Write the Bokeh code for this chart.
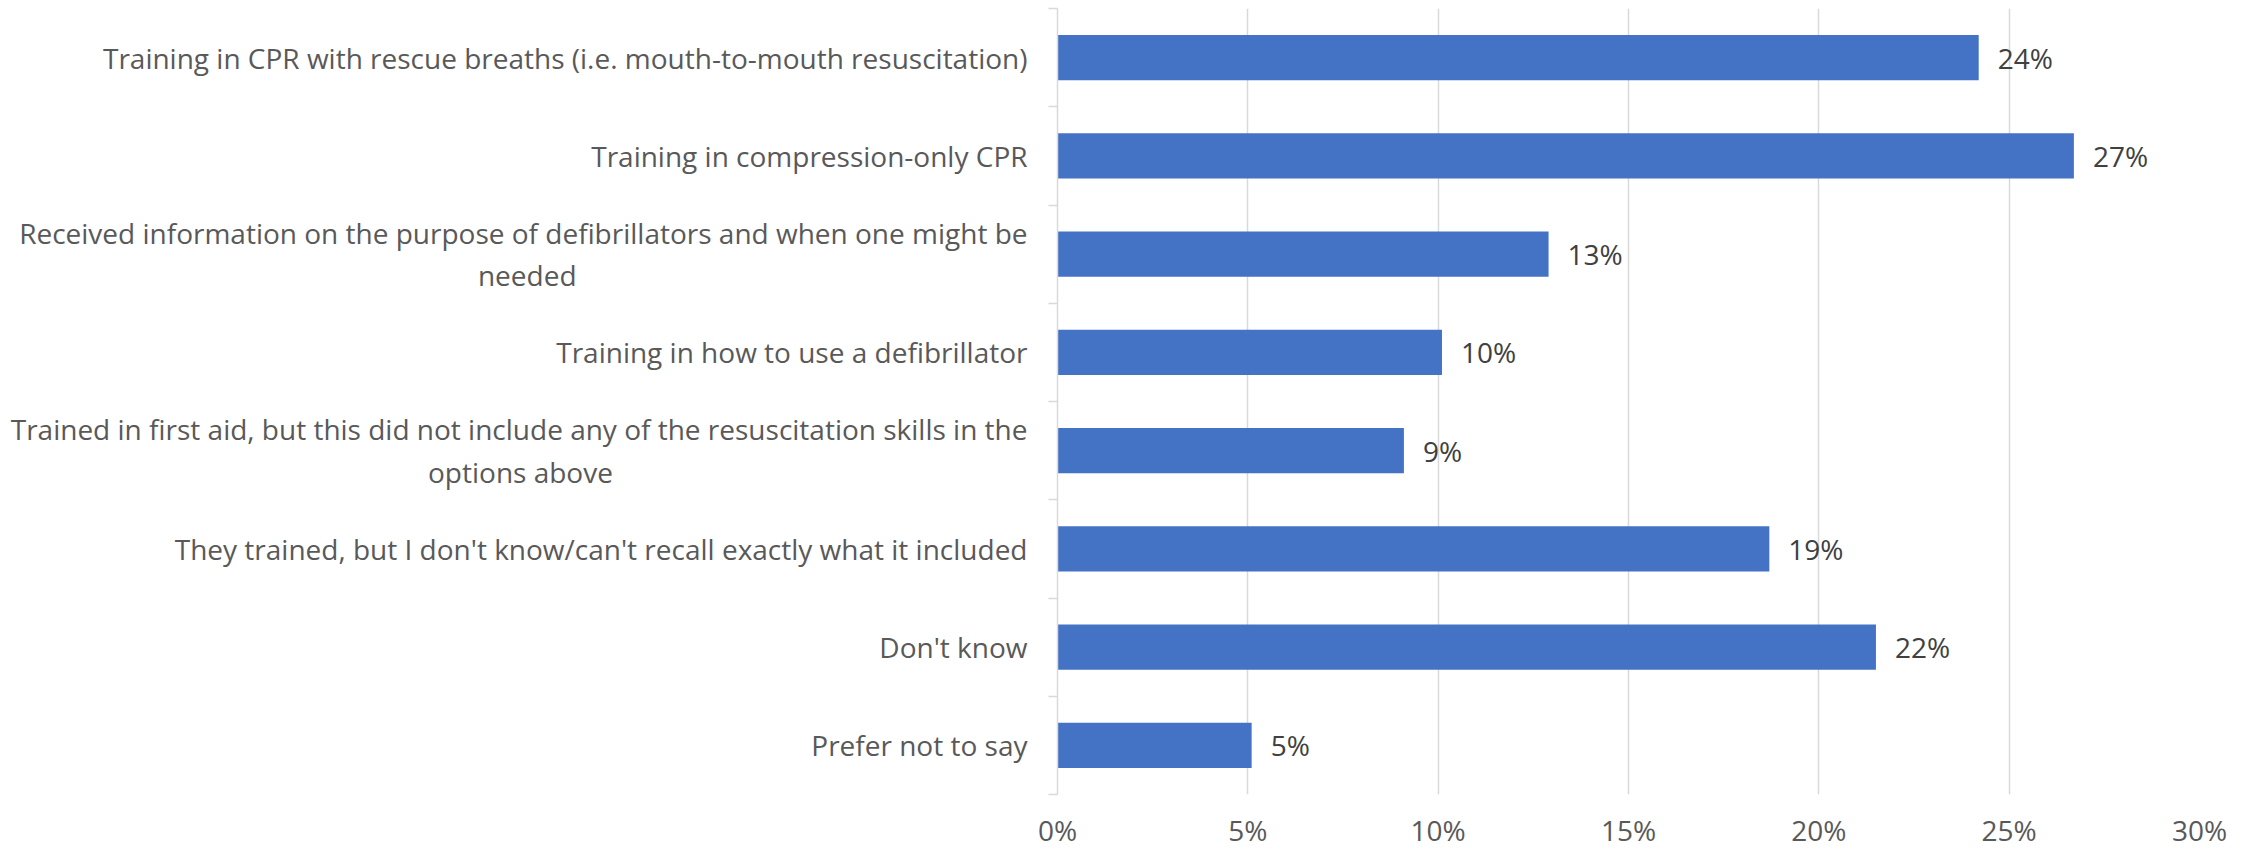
from bokeh.plotting import figure
from bokeh.models import Range1d, FixedTicker, PrintfTickFormatter, ColumnDataSource
from bokeh.core.properties import value
from bokeh.embed import file_html
from bokeh.resources import INLINE

categories = [
    "Training in CPR with rescue breaths (i.e. mouth-to-mouth resuscitation)",
    "Training in compression-only CPR",
    "Received information on the purpose of defibrillators and when one might be\nneeded",
    "Training in how to use a defibrillator",
    "Trained in first aid, but this did not include any of the resuscitation skills in the\noptions above",
    "They trained, but I don't know/can't recall exactly what it included",
    "Don't know",
    "Prefer not to say",
]
values = [24.2, 26.7, 12.9, 10.1, 9.1, 18.7, 21.5, 5.1]
x_ticks = [0, 5, 10, 15, 20, 25, 30]

# trailing spaces so that the wrapped second line sits centred under the first
# (Excel centres wrapped category labels; Bokeh right-aligns them on a left axis)
center_pad = {2: 62, 4: 57}

FONT = "Open Sans"
n = len(categories)
ypos = [n - 1 - i + 0.5 for i in range(n)]
labels = [f"{int(v + 0.5)}%" for v in values]


def tick_text(i, c):
    if i in center_pad:
        first, second = c.split("\n")
        return first + "\n" + second + " " * center_pad[i]
    return c


src = ColumnDataSource(dict(y=ypos, v=values, lab=labels))

p = figure(width=2257, height=851, output_backend="svg", toolbar_location=None,
           x_range=Range1d(0, 30), y_range=Range1d(0, n),
           min_border_left=1057, min_border_right=58, min_border_top=8, min_border_bottom=56)
p.outline_line_color = None
p.background_fill_color = "white"
p.border_fill_color = "white"

p.hbar(y="y", right="v", left=0, height=0.463, source=src,
       fill_color="#4472C4", line_color=None)
p.text(x="v", y="y", text="lab", source=src, x_offset=19,
       text_align="left", text_baseline="middle",
       text_font=value(FONT), text_font_size="28px", text_color="#404040")

# x axis
p.xaxis.ticker = FixedTicker(ticks=x_ticks)
p.xaxis.formatter = PrintfTickFormatter(format="%d%%")
p.xaxis.axis_line_color = None
p.xaxis.major_tick_line_color = None
p.xaxis.minor_tick_line_color = None
p.xaxis.major_tick_out = 0
p.xaxis.major_tick_in = 0
p.xaxis.major_label_standoff = 16
p.xaxis.major_label_text_font = FONT
p.xaxis.major_label_text_font_size = "28px"
p.xaxis.major_label_text_color = "#595959"

p.xgrid.ticker = FixedTicker(ticks=x_ticks)
p.xgrid.grid_line_color = "#D9D9D9"
p.xgrid.grid_line_width = 1.5
p.ygrid.grid_line_color = None

# y axis
p.yaxis.ticker = FixedTicker(ticks=ypos, minor_ticks=[float(i) for i in range(n + 1)])
p.yaxis.major_label_overrides = {y: tick_text(i, c) for i, (y, c) in enumerate(zip(ypos, categories))}
p.yaxis.axis_line_color = "#D9D9D9"
p.yaxis.axis_line_width = 1.5
p.yaxis.major_tick_line_color = None
p.yaxis.major_tick_out = 0
p.yaxis.major_tick_in = 0
p.yaxis.minor_tick_line_color = "#D9D9D9"
p.yaxis.minor_tick_line_width = 1.5
p.yaxis.minor_tick_out = 9
p.yaxis.minor_tick_in = 0
p.yaxis.major_label_standoff = 21
p.yaxis.major_label_text_font = FONT
p.yaxis.major_label_text_font_size = "28px"
p.yaxis.major_label_text_color = "#595959"
p.yaxis.major_label_text_line_height = 1.12

open("out.html", "w").write(file_html(p, INLINE))
